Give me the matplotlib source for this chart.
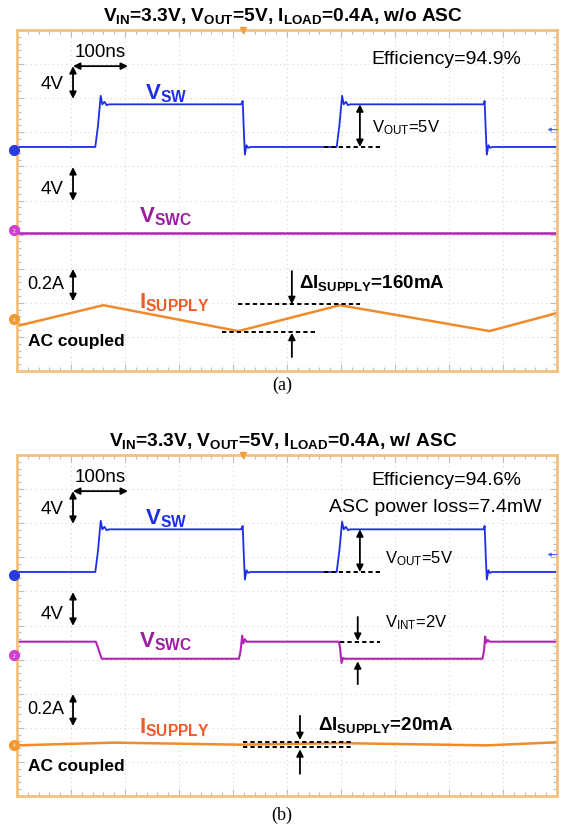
import matplotlib
matplotlib.use("Agg")
import matplotlib.pyplot as plt

plt.rcParams['font.family'] = ['Liberation Sans', 'DejaVu Sans']
plt.rcParams['mathtext.fontset'] = 'custom'
plt.rcParams['mathtext.rm'] = 'Liberation Sans'
plt.rcParams['mathtext.bf'] = 'Liberation Sans:bold'
plt.rcParams['mathtext.it'] = 'Liberation Sans:italic'

# ---------------- data (time in ns, 100 ns/div) ----------------
# V_SW (volts, 4 V/div)
vsw_t = [0, 145, 150, 155, 158, 162, 166, 170, 415, 418, 420, 422, 425, 428, 432,
         592, 597, 602, 605, 609, 613, 617, 864, 866, 868, 870, 873, 876, 880, 1000]
vsw_a = [0, 0, 2.5, 6.0, 5.0, 5.3, 4.9, 5.0, 5.0, 5.4, 2.0, -0.9, 0.2, -0.1, 0,
         0, 2.5, 6.0, 5.0, 5.3, 4.9, 5.0, 5.0, 5.4, 2.0, -0.9, 0.2, -0.1, 0, 0]
vsw_b = [0, 0, 2.5, 6.0, 5.0, 5.3, 4.9, 5.0, 5.0, 5.4, 2.0, -0.9, 0.2, -0.1, 0,
         0, 2.5, 5.9, 5.0, 5.3, 4.9, 5.0, 5.0, 5.4, 2.0, -0.9, 0.2, -0.1, 0, 0]

# V_SWC (volts, 4 V/div)
vswc_a_t = [0, 1000]
vswc_a = [0.0, 0.0]
vswc_b_t = [0, 146, 150, 153, 157, 411, 414, 417, 419, 422, 425,
            596, 598, 601, 604, 607, 862, 865, 867, 869, 872, 875, 1000]
vswc_b = [1.9, 1.9, 1.2, 0.6, -0.1, -0.1, 0.8, 2.6, 1.7, 2.2, 1.9,
          1.9, 1.3, -0.6, 0.0, -0.1, -0.1, 0.9, 2.5, 1.8, 2.1, 1.9, 1.9]

# I_SUPPLY (mA, AC coupled, 200 mA/div)
isup_a_t = [0, 160, 410, 598, 875, 1000]
isup_a = [-42, 80, -72, 80, -72, 34]
isup_b_t = [0, 180, 410, 600, 870, 1000]
isup_b = [-8, 8, -4, 5, -8, 10]

# channel ground positions (divisions) and scales (units per division)
sw_off, sw_scale = 6.57, 4.0
swc_off, swc_scale = 4.05, 4.0
isup_off_a, isup_off_b, isup_scale = 1.53, 1.525, 200.0

titles = [r'V$_{\mathbf{IN}}$=3.3V, V$_{\mathbf{OUT}}$=5V, I$_{\mathbf{LOAD}}$=0.4A, w/o ASC',
          r'V$_{\mathbf{IN}}$=3.3V, V$_{\mathbf{OUT}}$=5V, I$_{\mathbf{LOAD}}$=0.4A, w/ ASC']
captions = ['(a)', '(b)']

C_SW = '#1E2EE6'
C_SWC = '#B024B4'
C_SWC_LBL = '#9A1E9E'
C_I = '#F08A2A'
C_I_LBL = '#F05A28'
C_FRAME = '#F2C27C'

W, H = 564, 829
fig = plt.figure(figsize=(W / 100, H / 100), dpi=100)
fig.patch.set_facecolor('white')


def px_axes(x0, y0, x1, y1):
    return fig.add_axes([x0 / W, 1 - y1 / H, (x1 - x0) / W, (y1 - y0) / H])


def scope(ax):
    ax.set_xlim(0, 1000)
    ax.set_ylim(0, 10)
    ax.set_xticks(range(0, 1001, 100))
    ax.set_yticks(range(0, 11))
    ax.set_xticks(range(0, 1001, 20), minor=True)
    ax.set_yticks([i * 0.2 for i in range(51)], minor=True)
    ax.tick_params(which='both', direction='in', top=True, right=True,
                   labelbottom=False, labelleft=False, color='#BDBDBD', width=0.8)
    ax.tick_params(which='major', length=5)
    ax.tick_params(which='minor', length=3)
    ax.grid(True, which='major', linestyle=(0, (1, 3)), color='#D6D6D6', lw=0.8)
    for s in ax.spines.values():
        s.set_color(C_FRAME)
        s.set_linewidth(2.0)
    ax.set_facecolor('white')


def darrow(ax, x0, y0, x1, y1):
    ax.annotate('', xy=(x1, y1), xytext=(x0, y0),
                arrowprops=dict(arrowstyle='<|-|>', color='k', lw=1.3,
                                mutation_scale=10, shrinkA=0, shrinkB=0))


def sarrow(ax, x0, y0, x1, y1):
    ax.annotate('', xy=(x1, y1), xytext=(x0, y0),
                arrowprops=dict(arrowstyle='-|>', color='k', lw=1.3,
                                mutation_scale=10, shrinkA=0, shrinkB=0))


def dash(ax, x0, x1, y):
    ax.plot([x0, x1], [y, y], color='k', lw=1.4, ls=(0, (2.2, 1.6)))


axA = px_axes(17, 31, 557, 372)
axB = px_axes(17, 456, 557, 797)

for k, ax in enumerate([axA, axB]):
    scope(ax)
    isup_off = isup_off_a if k == 0 else isup_off_b
    if k == 0:
        ax.plot(vsw_t, [sw_off + v / sw_scale for v in vsw_a], color=C_SW, lw=1.3)
        ax.plot(vswc_a_t, [swc_off + v / swc_scale for v in vswc_a], color=C_SWC, lw=1.8)
        ax.plot(isup_a_t, [isup_off + v / isup_scale for v in isup_a], color=C_I, lw=1.8)
    else:
        ax.plot(vsw_t, [sw_off + v / sw_scale for v in vsw_b], color=C_SW, lw=1.3)
        ax.plot(vswc_b_t, [swc_off + v / swc_scale for v in vswc_b], color=C_SWC, lw=1.5)
        ax.plot(isup_b_t, [isup_off + v / isup_scale for v in isup_b], color=C_I, lw=1.8)

    # channel markers
    mk = [(6.47, '#2A3BE0', ''), (4.13, '#D040D0', '2'), (1.5 if k else 1.52, '#F09A30', '4')]
    for yy, cc, lab in mk:
        ax.plot(-5, yy, 'o', ms=7, color=cc, clip_on=False, zorder=5)
        if lab:
            ax.text(-5, yy, lab, fontsize=3.5, color='white', ha='center', va='center',
                    clip_on=False, zorder=6)
    # trigger marker and level arrow
    ax.plot(419, 10, marker='v', ms=5, color='#F0A040', clip_on=False, zorder=5)
    ax.annotate('', xy=(982, 7.08), xytext=(1000, 7.08),
                arrowprops=dict(arrowstyle='-|>', color='#4A68E8', lw=0.8,
                                mutation_scale=5, shrinkA=0, shrinkB=0))

    # time / volt scale arrows
    darrow(ax, 103.7, 8.94, 205.5, 8.94)
    darrow(ax, 103.7, 8.94, 103.7, 7.98)
    ax.text(107, 9.36, '100ns', fontsize=13.5, ha='left', va='center')
    ax.text(86, 8.42, '4V', fontsize=13.5, ha='right', va='center')
    darrow(ax, 103.7, 5.98, 103.7, 4.99)
    ax.text(86, 5.34, '4V', fontsize=13.5, ha='right', va='center')
    darrow(ax, 103.7, 2.99, 103.7, 2.05)
    ax.text(88, 2.58, '0.2A', fontsize=13, ha='right', va='center')

    # trace labels
    ax.text(237, 7.98, r'V$_{\mathbf{SW}}$', fontsize=16, color=C_SW,
            fontweight='bold', ha='left', va='baseline')
    ax.text(226, 4.39, r'V$_{\mathbf{SWC}}$', fontsize=16, color=C_SWC_LBL,
            fontweight='bold', ha='left', va='baseline')
    ax.text(226, 1.86, r'I$_{\mathbf{SUPPLY}}$', fontsize=16, color=C_I_LBL,
            fontweight='bold', ha='left', va='baseline')
    ax.text(20, 0.88, 'AC coupled', fontsize=12.5, fontweight='bold',
            ha='left', va='center')

    # V_OUT annotation
    darrow(ax, 635, sw_off + 5 / sw_scale, 635, sw_off)
    dash(ax, 569, 672, sw_off)

# panel a specific
axA.text(657, 9.15, 'Efficiency=94.9%', fontsize=14, ha='left', va='center')
axA.text(657, 7.18, r'V$_{\mathrm{OUT}}$=5V', fontsize=12, ha='left', va='center')
axA.text(522, 2.62, r'ΔI$_{\mathbf{SUPPLY}}$=160mA', fontsize=13.5, fontweight='bold',
         ha='left', va='center')
sarrow(axA, 509, 2.93, 509, 1.96)
dash(axA, 409, 635, 1.96)
dash(axA, 380, 552, 1.14)
sarrow(axA, 509, 0.41, 509, 1.12)

# panel b specific
axB.text(657, 9.27, 'Efficiency=94.6%', fontsize=14, ha='left', va='center')
axB.text(578, 8.49, 'ASC power loss=7.4mW', fontsize=14, ha='left', va='center')
axB.text(681, 7.0, r'V$_{\mathrm{OUT}}$=5V', fontsize=12, ha='left', va='center')
sarrow(axB, 631, 5.25, 631, 4.55)
dash(axB, 598, 672, 4.52)
sarrow(axB, 631, 3.28, 631, 3.95)
axB.text(681, 5.1, r'V$_{\mathrm{INT}}$=2V', fontsize=12, ha='left', va='center')
axB.text(557, 2.11, r'ΔI$_{\mathbf{SUPPLY}}$=20mA', fontsize=13.5, fontweight='bold',
         ha='left', va='center')
sarrow(axB, 524, 2.35, 524, 1.64)
dash(axB, 419, 620, 1.58)
dash(axB, 419, 620, 1.44)
sarrow(axB, 524, 0.65, 524, 1.37)

# titles and captions
fig.text(0.502, 1 - 21 / H, titles[0], fontsize=13.8, fontweight='bold',
         ha='center', va='baseline')
fig.text(0.502, 1 - 446 / H, titles[1], fontsize=13.8, fontweight='bold',
         ha='center', va='baseline')
fig.text(0.5, 1 - 385 / H, captions[0], fontsize=13, family='Liberation Serif',
         ha='center', va='center')
fig.text(0.5, 1 - 815 / H, captions[1], fontsize=13, family='Liberation Serif',
         ha='center', va='center')

fig.savefig('out.png', dpi=100, facecolor='white')
